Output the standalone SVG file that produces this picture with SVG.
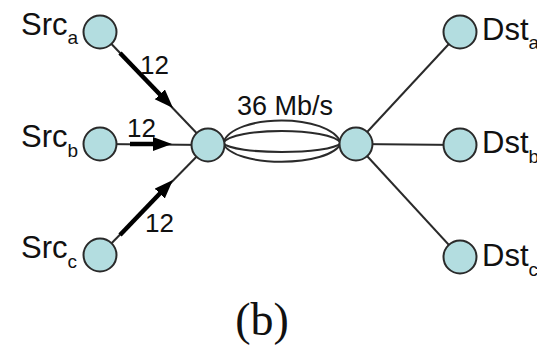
<svg xmlns="http://www.w3.org/2000/svg" width="537" height="347" viewBox="0 0 537 347">
  <style>
    .node { fill: #b3dde0; stroke: #2a2a2a; stroke-width: 2; }
    .thin { stroke: #2a2a2a; stroke-width: 2; fill: none; }
    .thick { stroke: #000; stroke-width: 4.5; fill: none; marker-end: url(#arr); }
    .lbl { font-family: "Liberation Sans", Arial, sans-serif; font-size: 31px; fill: #111; }
    .sub { font-size: 19px; }
    .num { font-family: "Liberation Sans", Arial, sans-serif; font-size: 26px; fill: #111; }
  </style>
  <defs>
    <marker id="arr" markerUnits="userSpaceOnUse" markerWidth="20" markerHeight="16" refX="4" refY="7" orient="auto">
      <path d="M0,0 L19,7 L0,14 Z" fill="#000"/>
    </marker>
  </defs>
  <rect width="537" height="347" fill="#fff"/>
  <g id="connectors">
    <line class="thin" x1="100" y1="32" x2="208" y2="145"/>
    <line class="thin" x1="100" y1="144" x2="208" y2="145"/>
    <line class="thin" x1="100" y1="255" x2="208" y2="145"/>
    <line class="thick" x1="120" y1="53" x2="162.6" y2="97.2"/>
    <line class="thick" x1="130" y1="144" x2="157" y2="144"/>
    <line class="thick" x1="120" y1="235" x2="162.5" y2="190.7"/>
    <path class="thin" d="M223,143 C233,113 330,113 341,143"/>
    <path class="thin" d="M223,143 C233,127 330,127 341,143"/>
    <path class="thin" d="M223,143 C233,155 330,155 341,143"/>
    <path class="thin" d="M223,143 C233,168 330,168 341,143"/>
    <line class="thin" x1="356" y1="144" x2="460" y2="32"/>
    <line class="thin" x1="356" y1="144" x2="460" y2="145"/>
    <line class="thin" x1="356" y1="144" x2="460" y2="257"/>
    <text class="num" x="140" y="74">12</text>
    <text class="num" x="127" y="137">12</text>
    <text class="num" x="145" y="232">12</text>
    <text class="num" x="237" y="115" style="font-size:27px">36 Mb/s</text>
  </g>
  <g id="src_a">
    <circle class="node" cx="100" cy="32" r="16.5"/>
    <text class="lbl" x="21" y="35">Src<tspan class="sub" dy="9">a</tspan></text>
  </g>
  <g id="src_b">
    <circle class="node" cx="100" cy="144" r="16.5"/>
    <text class="lbl" x="21" y="147">Src<tspan class="sub" dy="10">b</tspan></text>
  </g>
  <g id="src_c">
    <circle class="node" cx="100" cy="255" r="16.5"/>
    <text class="lbl" x="21" y="258">Src<tspan class="sub" dy="10">c</tspan></text>
  </g>
  <g id="hub_left">
    <circle class="node" cx="208" cy="145" r="16.5"/>
  </g>
  <g id="hub_right">
    <circle class="node" cx="356" cy="144" r="16.5"/>
  </g>
  <g id="dst_a">
    <circle class="node" cx="460" cy="32" r="16.5"/>
    <text class="lbl" x="482" y="40">Dst<tspan class="sub" dy="9">a</tspan></text>
  </g>
  <g id="dst_b">
    <circle class="node" cx="460" cy="145" r="16.5"/>
    <text class="lbl" x="482" y="153">Dst<tspan class="sub" dy="10">b</tspan></text>
  </g>
  <g id="dst_c">
    <circle class="node" cx="460" cy="257" r="16.5"/>
    <text class="lbl" x="482" y="266">Dst<tspan class="sub" dy="10">c</tspan></text>
  </g>
  <text x="262" y="335" text-anchor="middle" font-family="'Liberation Serif', 'Times New Roman', serif" font-size="46" fill="#111">(b)</text>
</svg>
